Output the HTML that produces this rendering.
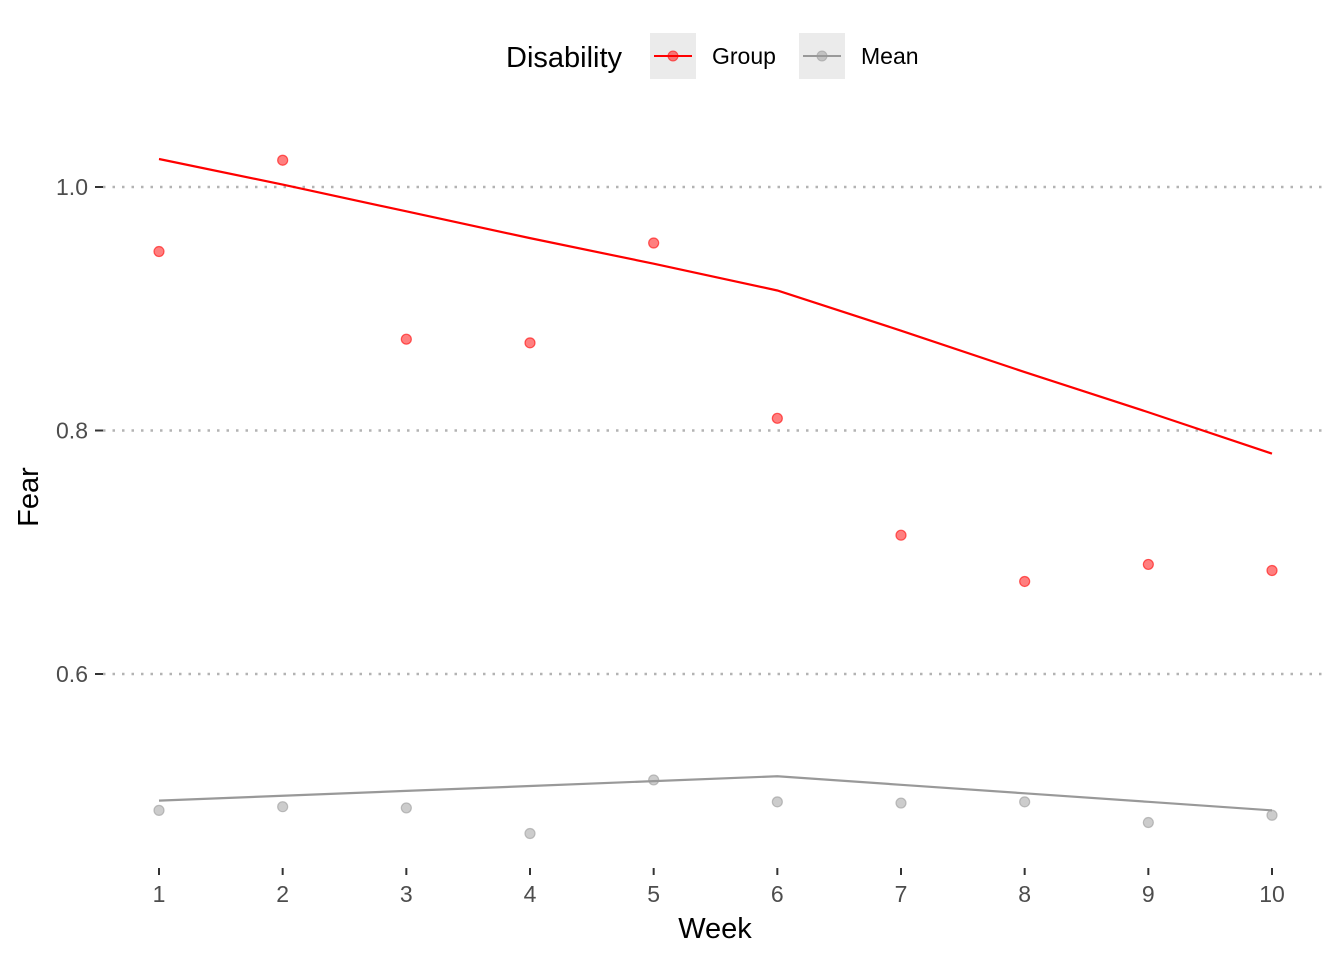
<!DOCTYPE html>
<html><head><meta charset="utf-8">
<style>
html,body{margin:0;padding:0;background:#fff;}
svg{display:block;font-family:"Liberation Sans",sans-serif;}
</style></head>
<body>
<svg id="chart" width="1344" height="960" viewBox="0 0 1344 960">
  <g id="grid"></g>
  <g id="yticks"></g>
  <g id="xticks"></g>
  <g id="series"></g>
  <text x="715" y="938" font-size="29" text-anchor="middle" fill="#000">Week</text>
  <text transform="translate(38,497) rotate(-90)" font-size="29" text-anchor="middle" fill="#000">Fear</text>
  <g>
    <text x="506" y="67" font-size="29" fill="#000">Disability</text>
    <g>
      <rect x="650" y="33" width="46" height="46" fill="#ebebeb"/>
      <line x1="654" y1="56" x2="692" y2="56" stroke="#ff0000" stroke-width="2"/>
      <circle cx="673" cy="56" r="5" fill="#ff0000" fill-opacity="0.5" stroke="#ff0000" stroke-opacity="0.6"/>
      <text x="712" y="64" font-size="23" fill="#000">Group</text>
    </g>
    <g>
      <rect x="799" y="33" width="46" height="46" fill="#ebebeb"/>
      <line x1="803" y1="56" x2="841" y2="56" stroke="#999" stroke-width="2"/>
      <circle cx="822" cy="56" r="5" fill="#999" fill-opacity="0.5" stroke="#999" stroke-opacity="0.6"/>
      <text x="861" y="64" font-size="23" fill="#000">Mean</text>
    </g>
  </g>
</svg>
<script>
const weeks = [1,2,3,4,5,6,7,8,9,10];
const groupPoints = [0.947,1.022,0.875,0.872,0.954,0.810,0.714,0.676,0.690,0.685];
const groupLine = [1.023,1.002,0.980,0.958,0.937,0.915,0.882,0.848,0.815,0.781];
const meanPoints = [0.488,0.491,0.490,0.469,0.513,0.495,0.494,0.495,0.478,0.484];
const meanLine = [0.496,0.500,0.504,0.508,0.512,0.516,0.509,0.502,0.495,0.488];
const yTicks = [0.6,0.8,1.0];
const yTickLabels = ["0.6","0.8","1.0"];

const NS = "http://www.w3.org/2000/svg";
function xs(w){ return 159 + (w-1)*(1272-159)/9; }
function ys(v){ return 187 + (1.0 - v)*1217.5; }
function mk(tag, attrs, parent){
  const e = document.createElementNS(NS, tag);
  for (const k in attrs) e.setAttribute(k, attrs[k]);
  parent.appendChild(e); return e;
}
const grid = document.getElementById('grid');
const yt = document.getElementById('yticks');
const xt = document.getElementById('xticks');
const series = document.getElementById('series');

yTicks.forEach((v,i)=>{
  const l = mk('line',{x1:103,x2:1325,y1:ys(v),y2:ys(v),stroke:'#b3b3b3','stroke-width':2.5,'stroke-dasharray':'2.5 7'},grid);
  
  
  const t = mk('text',{x:88,y:ys(v)+8,'font-size':23,'text-anchor':'end',fill:'#4d4d4d'},yt);
  t.textContent = yTickLabels[i];
  
  
  const tk = mk('line',{x1:95,x2:103,y1:ys(v),y2:ys(v),stroke:'#333','stroke-width':2},yt);
  
  
});
weeks.forEach(w=>{
  const tk = mk('line',{x1:xs(w),x2:xs(w),y1:868,y2:875,stroke:'#333','stroke-width':2},xt);
  
  
  const t = mk('text',{x:xs(w),y:902,'font-size':23,'text-anchor':'middle',fill:'#4d4d4d'},xt);
  t.textContent = String(w);
  
  
});

function drawLine(vals,color,name){
  const p = mk('polyline',{points:weeks.map((w,i)=>xs(w)+','+ys(vals[i])).join(' '),fill:'none',stroke:color,'stroke-width':2.2},series);
  
  
}
function drawPts(vals,color,name){
  weeks.forEach((w,i)=>{
    const c = mk('circle',{cx:xs(w),cy:ys(vals[i]),r:5,fill:color,'fill-opacity':0.5,stroke:color,'stroke-opacity':0.6,'stroke-width':1.2},series);
    
    
  });
}
drawLine(meanLine,'#999999','mean-line');
drawPts(meanPoints,'#999999','mean-point');
drawLine(groupLine,'#ff0000','group-line');
drawPts(groupPoints,'#ff0000','group-point');
</script>
</body></html>
